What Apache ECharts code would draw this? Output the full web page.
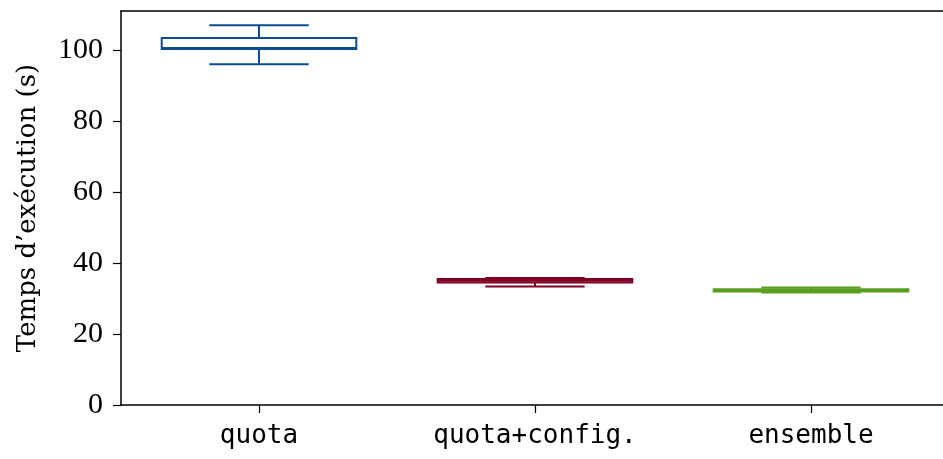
<!DOCTYPE html>
<html>
<head>
<meta charset="utf-8">
<script src="https://cdn.jsdelivr.net/npm/echarts@6/dist/echarts.min.js"></script>
<style>
  html, body { margin: 0; padding: 0; background: #fff; overflow: hidden; }
  #chart { width: 949px; height: 459px; }
</style>
</head>
<body>
<div id="chart"></div>
<script>
// box plot values (s)
var categories = ["quota", "quota+config.", "ensemble"];
var whiskerLow = [96.0, 33.4, 31.7];
var q1 = [100.3, 34.5, 32.0];
var median = [100.6, 35.0, 32.3];
var q3 = [103.4, 35.5, 32.6];
var whiskerHigh = [107.0, 35.8, 33.1];

var colorList = ["#0b4d8e", "#7f0023", "#5a9e1f"];

var chart = echarts.init(document.getElementById("chart"));

var boxData = categories.map(function (c, i) {
  return [i, whiskerLow[i], q1[i], median[i], q3[i], whiskerHigh[i]];
});

function renderBox(params, api) {
  var idx = api.value(0);
  var band = api.size([1, 0])[0];
  var x = api.coord([idx, 0])[0];
  var yLow = api.coord([idx, api.value(1)])[1];
  var yQ1 = api.coord([idx, api.value(2)])[1];
  var yMed = api.coord([idx, api.value(3)])[1];
  var yQ3 = api.coord([idx, api.value(4)])[1];
  var yHigh = api.coord([idx, api.value(5)])[1];
  var bw = band * 0.705 / 2;
  var cw = band * 0.36 / 2;
  var color = colorList[idx];
  var st = { stroke: color, lineWidth: 2, fill: null };
  function line(x1, y1, x2, y2) {
    return { type: "line", shape: { x1: x1, y1: y1, x2: x2, y2: y2 }, style: st };
  }
  return {
    type: "group",
    children: [
      line(x, yQ1, x, yLow),
      line(x, yQ3, x, yHigh),
      line(x - cw, yLow, x + cw, yLow),
      line(x - cw, yHigh, x + cw, yHigh),
      { type: "rect", shape: { x: x - bw, y: yQ3, width: bw * 2, height: yQ1 - yQ3 }, style: st },
      line(x - bw, yMed, x + bw, yMed),
    ],
  };
}

var option = {
  backgroundColor: "#fff",
  animation: false,
  grid: {
    left: 121,
    right: 0,
    top: 11,
    bottom: 54,
    containLabel: false,
    outerBoundsMode: "none",
  },
  xAxis: [
    {
      type: "category",
      data: categories,
      axisLine: { show: true, lineStyle: { color: "#000", width: 1.5 } },
      axisTick: { show: true, alignWithLabel: true, length: 8, lineStyle: { color: "#000", width: 1.2 } },
      axisLabel: {
        color: "#000",
        fontFamily: "DejaVu Sans Mono",
        fontSize: 26,
        margin: 18,
        interval: 0,
      },
      splitLine: { show: false },
    },
    {
      // top spine only
      type: "category",
      position: "top",
      data: categories,
      axisLine: { show: true, lineStyle: { color: "#000", width: 1.5 } },
      axisTick: { show: false },
      axisLabel: { show: false },
      splitLine: { show: false },
    },
  ],
  yAxis: {
    type: "value",
    min: 0,
    max: 111,
    interval: 20,
    name: "Temps d\u2019ex\u00e9cution (s)",
    nameLocation: "middle",
    nameGap: 80,
    nameTextStyle: { color: "#000", fontFamily: "DejaVu Serif", fontSize: 26 },
    axisLine: { show: true, lineStyle: { color: "#000", width: 1.5 } },
    axisTick: { show: true, length: 8, lineStyle: { color: "#000", width: 1.2 } },
    axisLabel: {
      color: "#000",
      fontFamily: "Liberation Serif",
      fontSize: 30,
      margin: 18,
      showMaxLabel: false,
    },
    splitLine: { show: false },
  },
  series: [
    {
      type: "custom",
      renderItem: renderBox,
      encode: { x: 0, y: [1, 2, 3, 4, 5] },
      data: boxData,
      clip: false,
    },
  ],
};
chart.setOption(option);
</script>
</body>
</html>
